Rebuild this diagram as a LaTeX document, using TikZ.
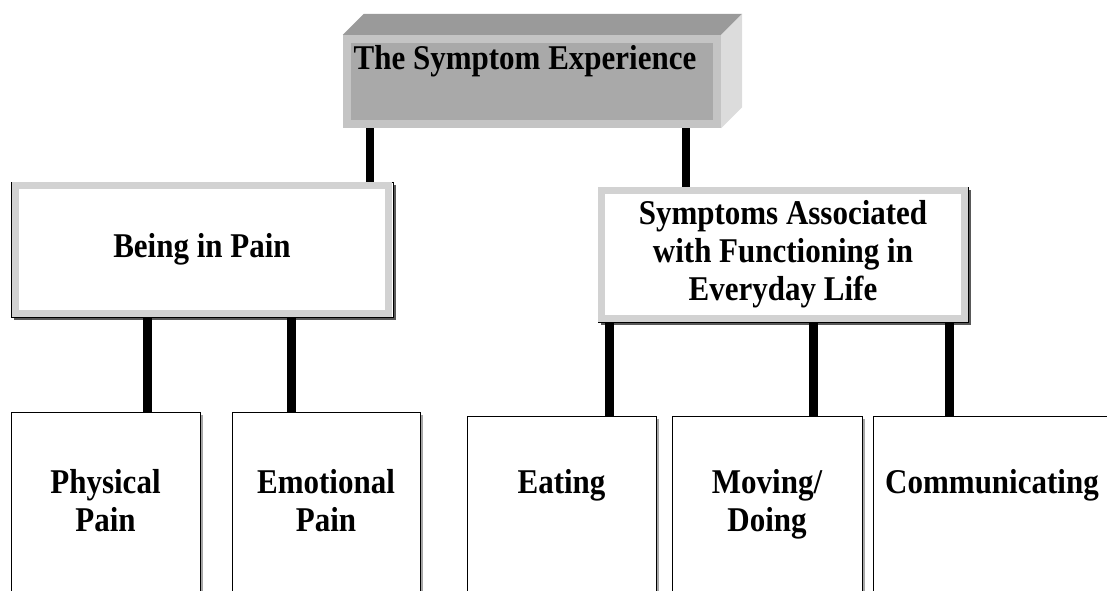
\documentclass[tikz,border=0pt]{standalone}
\usepackage{fontspec}
\setmainfont{Liberation Serif}
\usepackage{tikz}
\usetikzlibrary{positioning,shadows}
\definecolor{topTop}{HTML}{9A9A9A}
\definecolor{topBand}{HTML}{C4C4C4}
\definecolor{topFace}{HTML}{A9A9A9}
\definecolor{topSide}{HTML}{DCDCDC}
\definecolor{midBand}{HTML}{D2D2D2}
\newcommand{\tallText}[1]{\scalebox{1}[1.12]{#1}}

\begin{document}
\begin{tikzpicture}[x=1pt,y=-1pt,
  font=\bfseries\fontsize{31}{38}\selectfont,
  midbox/.style={draw=black, line width=0.8pt, fill=white, inner sep=0pt,
    minimum height=135pt, align=center,
    drop shadow={shadow xshift=3pt, shadow yshift=-3pt, fill=black!65, opacity=1}},
  band/.style={draw=midBand, line width=7pt},
  leafbox/.style={draw=black, line width=0.7pt, fill=white, anchor=north,
    minimum height=300pt, inner sep=0pt,
    drop shadow={shadow xshift=2.5pt, shadow yshift=-2.5pt, fill=black!35, opacity=1}},
  lbl/.style={align=center, inner sep=0pt, anchor=north},
  link/.style={line width=8.5pt}]
\useasboundingbox (0,0) rectangle (1107,590);
\clip (0,0) rectangle (1107,590);
% top box (3d)
\node[fill=topFace, minimum width=378pt, minimum height=93pt, inner sep=0pt] (top) at (532,81.5) {};
\draw[topBand, line width=8pt] ([xshift=4.5pt,yshift=-4pt]top.north west) rectangle ([xshift=-4.5pt,yshift=4pt]top.south east);
\fill[topTop] (top.north west) -- ([xshift=21pt,yshift=21pt]top.north west) -- ([xshift=21pt,yshift=21pt]top.north east) -- (top.north east) -- cycle;
\fill[topSide] (top.north east) -- ([xshift=21pt,yshift=21pt]top.north east) -- ([xshift=21pt,yshift=21pt]top.south east) -- (top.south east) -- cycle;
\node[lbl] (toplbl) at ([xshift=-7pt,yshift=-10pt]top.north) {\tallText{The Symptom Experience}};
% second level
\node[midbox, minimum width=382pt] (pain) at (202,249.5) {\tallText{Being in Pain}};
\draw[band] ([xshift=4.5pt,yshift=-4pt]pain.north west) rectangle ([xshift=-4.5pt,yshift=4pt]pain.south east);
\node[midbox, minimum width=370pt] (sym) at (783,254.5) {\tallText{Symptoms Associated}\\\tallText{with Functioning in}\\\tallText{Everyday Life}};
\draw[band] ([xshift=4pt,yshift=-4pt]sym.north west) rectangle ([xshift=-4pt,yshift=4pt]sym.south east);
% leaves
\node[leafbox, minimum width=189pt] (phys) at (105.5,412) {};
\node[leafbox, minimum width=188pt] (emo) at (326,412) {};
\node[leafbox, minimum width=189pt] (eat) at (561.5,416) {};
\node[leafbox, minimum width=190pt] (mov) at (767,416) {};
\node[leafbox, minimum width=252pt] (com) at (999,416) {};
\node[lbl] at ([yshift=-57pt]phys.north) {\tallText{Physical}\\\tallText{Pain}};
\node[lbl] at ([yshift=-57pt]emo.north) {\tallText{Emotional}\\\tallText{Pain}};
\node[lbl] at ([yshift=-53pt]eat.north) {\tallText{Eating}};
\node[lbl] at ([yshift=-53pt]mov.north) {\tallText{Moving/}\\\tallText{Doing}};
\node[lbl] at ([xshift=-7pt,yshift=-53pt]com.north) {\tallText{Communicating}};
% connectors
\coordinate (t1) at ([xshift=-162pt]top.south);
\coordinate (t2) at ([xshift=154pt]top.south);
\draw[link] (t1) -- (pain.north -| t1);
\draw[link] (t2) -- (sym.north -| t2);
\coordinate (p1) at ([xshift=137pt]pain.south west);
\coordinate (p2) at ([xshift=281pt]pain.south west);
\draw[link] (p1) -- (phys.north -| p1);
\draw[link] (p2) -- (emo.north -| p2);
\coordinate (s1) at ([xshift=12pt]sym.south west);
\coordinate (s2) at ([xshift=216pt]sym.south west);
\coordinate (s3) at ([xshift=352pt]sym.south west);
\draw[link] (s1) -- (eat.north -| s1);
\draw[link] (s2) -- (mov.north -| s2);
\draw[link] (s3) -- (com.north -| s3);
\end{tikzpicture}
\end{document}
